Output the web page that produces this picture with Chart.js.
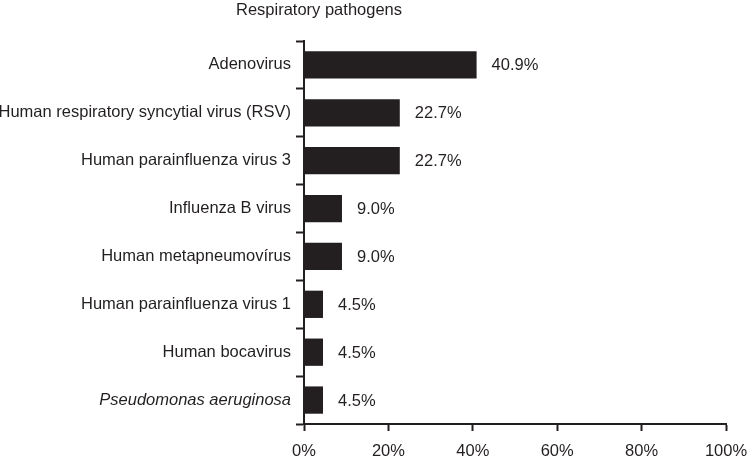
<!DOCTYPE html>
<html>
<head>
<meta charset="utf-8">
<script src="https://cdn.jsdelivr.net/npm/chart.js@4"></script>
<style>
    html, body { margin: 0; padding: 0; background: #fff; }
    #wrap { width: 749px; height: 457px; }
</style>
</head>
<body>
<div id="wrap"><canvas id="pathogenChart" width="749" height="457"></canvas></div>
<script>
// Data
const pathogens = [
    'Adenovirus',
    'Human respiratory syncytial virus (RSV)',
    'Human parainfluenza virus 3',
    'Influenza B virus',
    'Human metapneumovírus',
    'Human parainfluenza virus 1',
    'Human bocavirus',
    'Pseudomonas aeruginosa'
];
const percentages = [40.9, 22.7, 22.7, 9.0, 9.0, 4.5, 4.5, 4.5];
const italicLabels = ['Pseudomonas aeruginosa'];
const xTicks = [0, 20, 40, 60, 80, 100];

const ink = '#231f20';
const fontFamily = '"Liberation Sans", Arial, Helvetica, sans-serif';
const fontSize = 16.5;

// Value labels to the right of each bar
const valueLabels = {
    id: 'valueLabels',
    afterDatasetsDraw(chart) {
        const ctx = chart.ctx;
        const meta = chart.getDatasetMeta(0);
        ctx.save();
        ctx.fillStyle = ink;
        ctx.font = fontSize + 'px ' + fontFamily;
        ctx.textAlign = 'left';
        ctx.textBaseline = 'middle';
        meta.data.forEach((bar, i) => {
            ctx.fillText(percentages[i].toFixed(1) + '%', bar.x + 15, bar.y + 1);
        });
        ctx.restore();
    }
};

// Title above the axis
const topTitle = {
    id: 'topTitle',
    afterDraw(chart) {
        const ctx = chart.ctx;
        ctx.save();
        ctx.fillStyle = ink;
        ctx.font = fontSize + 'px ' + fontFamily;
        ctx.textAlign = 'left';
        ctx.textBaseline = 'middle';
        ctx.fillText('Respiratory pathogens', chart.chartArea.left - 68, 10);
        ctx.restore();
    }
};

const ctx = document.getElementById('pathogenChart').getContext('2d');
new Chart(ctx, {
    type: 'bar',
    data: {
        labels: pathogens,
        datasets: [{
            data: percentages,
            backgroundColor: ink,
            borderWidth: 0,
            categoryPercentage: 1,
            barPercentage: 0.57
        }]
    },
    options: {
        indexAxis: 'y',
        responsive: false,
        animation: false,
        layout: {
            padding: { top: 41, right: 23, left: 0, bottom: 0 }
        },
        plugins: {
            legend: { display: false },
            tooltip: { enabled: false }
        },
        scales: {
            x: {
                min: 0,
                max: 100,
                afterFit: (scale) => {
                    scale.height = 33;
                    scale.paddingLeft = 0;
                    scale.paddingRight = 0;
                },
                afterBuildTicks: (scale) => {
                    scale.ticks = xTicks.map(v => ({ value: v }));
                },
                border: { display: true, color: ink, width: 2 },
                grid: {
                    drawOnChartArea: false,
                    drawTicks: true,
                    tickLength: 7,
                    tickWidth: 2,
                    tickColor: ink
                },
                ticks: {
                    color: ink,
                    font: { family: fontFamily, size: fontSize },
                    padding: 11,
                    maxRotation: 0,
                    callback: (v) => v + '%'
                }
            },
            y: {
                afterFit: (scale) => {
                    scale.width = 304;
                    scale.paddingTop = 0;
                    scale.paddingBottom = 0;
                },
                border: { display: true, color: ink, width: 2 },
                grid: {
                    offset: true,
                    drawOnChartArea: false,
                    drawTicks: true,
                    tickLength: 8,
                    tickWidth: 2,
                    tickColor: ink
                },
                ticks: {
                    color: ink,
                    padding: 5,
                    font: (c) => ({
                        family: fontFamily,
                        size: fontSize,
                        style: italicLabels.includes(pathogens[c.index]) ? 'italic' : 'normal'
                    })
                }
            }
        }
    },
    plugins: [valueLabels, topTitle]
});
</script>
</body>
</html>
